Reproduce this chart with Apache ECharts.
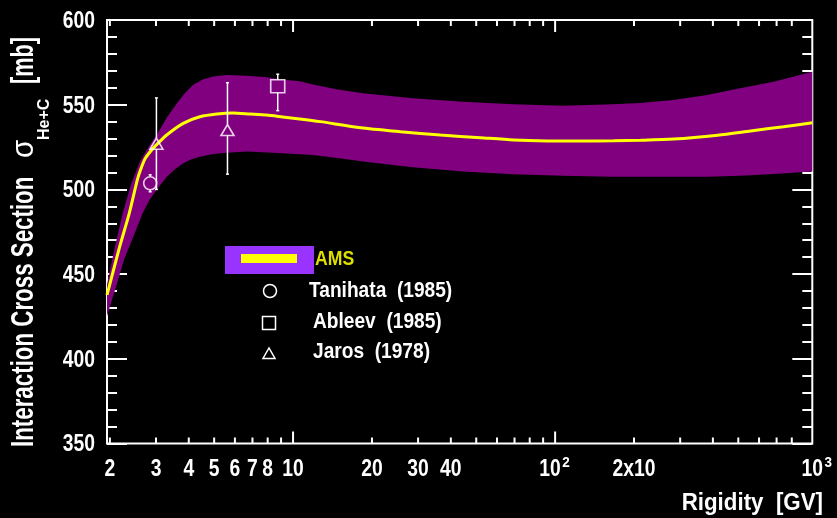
<!DOCTYPE html>
<html>
<head>
<meta charset="utf-8">
<script src="https://cdn.jsdelivr.net/npm/echarts/dist/echarts.min.js"></script>
<style>
  html, body { margin: 0; padding: 0; background: #000; }
  #chart { width: 837px; height: 518px; }
</style>
</head>
<body>
<div id="chart"></div>
<script>
// AMS fit: central value of the He+C interaction cross section vs rigidity
const amsRigidity = [1.95, 2.019, 2.18, 2.371, 2.545, 2.609, 2.723, 2.845, 2.971, 3.295, 3.809, 4.41, 5.12, 5.90, 6.85, 7.92, 9.12, 10.6, 12.7, 18.1, 25.7, 36.5, 51.9, 69.4, 93.5, 125, 167, 212, 283, 417, 557, 744, 958];
const amsSigma = [437.7, 446.6, 466.2, 485.9, 505.6, 510.9, 518.0, 522.1, 525.4, 532.1, 539.0, 542.9, 544.5, 545.1, 544.5, 543.9, 542.8, 541.6, 540, 536.4, 534.1, 532.1, 530.5, 529.2, 528.6, 528.5, 528.7, 529, 529.7, 532, 534.5, 537, 539.3];

// AMS uncertainty band: upper and lower edges
const bandUpperR = [1.95, 1.967, 2.09, 2.24, 2.41, 2.61, 2.80, 3.04, 3.30, 3.61, 3.87, 4.15, 4.52, 4.95, 5.59, 6.67, 7.94, 9.48, 10.6, 11.9, 14.8, 18.5, 28.6, 44.5, 69.0, 107, 166, 211, 282, 380, 508, 682, 958];
const bandUpperV = [443.8, 446.6, 466.1, 486.1, 503.2, 516.8, 524.8, 533.0, 542.5, 551.0, 556.9, 561.6, 564.9, 566.7, 567.5, 567.1, 566.2, 564.6, 563.8, 561.9, 559.0, 556.7, 553.8, 551.8, 550.3, 549.4, 550.3, 551.0, 552.8, 555.7, 559.7, 563.6, 569.5];
const bandLowerR = [1.95, 1.967, 2.15, 2.27, 2.43, 2.67, 2.84, 3.05, 3.30, 3.53, 3.80, 4.07, 4.41, 4.95, 5.59, 6.67, 8.37, 10.6, 11.9, 14.8, 18.5, 28.6, 44.5, 69.0, 107, 166, 211, 380, 508, 682, 958];
const bandLowerV = [425.1, 427.1, 446.6, 459.0, 470.2, 486.1, 494.1, 500.9, 507.4, 511.8, 515.3, 517.7, 519.3, 520.9, 521.7, 522.3, 521.7, 520.8, 520.3, 518.6, 516.4, 513.1, 510.5, 509.0, 508.0, 507.5, 507.5, 507.5, 508.1, 509.1, 510.5];

// Measurements
const tanihataR = [2.85];
const tanihataV = [503.6];
const tanihataErrLo = [5];
const tanihataErrHi = [5];

const ableevR = [8.74];
const ableevV = [560.9];
const ableevErrLo = [14.4];
const ableevErrHi = [7.1];

const jarosR = [3.01, 5.62];
const jarosV = [527, 535];
const jarosErrLo = [27, 26];
const jarosErrHi = [27, 28];

// Axis ticks and labels
const xTickValues = [2, 3, 4, 5, 6, 7, 8, 9, 10, 20, 30, 40, 50, 60, 70, 80, 90, 100, 200, 300, 400, 500, 600, 700, 800];
const xMajorTicks = [10, 100];
const xLabelValues = [2, 3, 4, 5, 6, 7, 8, 10, 20, 30, 40, 100, 200, 1000];
const xLabelTexts = ['2', '3', '4', '5', '6', '7', '8', '10', '20', '30', '40', '10', '2x10', '10'];
const xLabelSups = ['', '', '', '', '', '', '', '', '', '', '', '2', '', '3'];
const yLabelValues = [350, 400, 450, 500, 550, 600];

const X_MIN = 1.95, X_MAX = 958, Y_MIN = 350, Y_MAX = 600;
const FONT = '"Liberation Sans", Arial, Helvetica, sans-serif';
const WHITE = '#ffffff';

const chart = echarts.init(document.getElementById('chart'));

function zip(a, b) { return a.map((v, i) => [v, b[i]]); }

// rows for error bars: [R, value, errLow, errHigh, marker half height in px]
function errRows(r, v, lo, hi, half) { return r.map((x, i) => [x, v[i], lo[i], hi[i], half]); }
const errorRows = [].concat(
  errRows(tanihataR, tanihataV, tanihataErrLo, tanihataErrHi, 6.7),
  errRows(ableevR, ableevV, ableevErrLo, ableevErrHi, 6.5),
  errRows(jarosR, jarosV, jarosErrLo, jarosErrHi, 5.5)
);

const tickStyle = { stroke: WHITE, lineWidth: 2 };
const labelFont = 'bold 23px ' + FONT;
const supFont = 'bold 15px ' + FONT;

const yAxisCommon = {
  type: 'value', min: Y_MIN, max: Y_MAX, interval: 50,
  axisLine: { show: false },
  axisTick: { show: true, inside: true, length: 20, lineStyle: { color: WHITE, width: 2 } },
  minorTick: { show: true, splitNumber: 5, length: 10, lineStyle: { color: WHITE, width: 2 } },
  axisLabel: { show: false },
  splitLine: { show: false },
  minorSplitLine: { show: false }
};

const option = {
  backgroundColor: '#000000',
  animation: false,
  grid: {
    left: 107, right: 24.7, top: 20, bottom: 74.5,
    show: true, borderColor: WHITE, borderWidth: 2, backgroundColor: 'transparent'
  },
  xAxis: {
    type: 'log', logBase: 10, min: X_MIN, max: X_MAX,
    axisLine: { show: false }, axisTick: { show: false }, axisLabel: { show: false },
    splitLine: { show: false }, minorTick: { show: false }, minorSplitLine: { show: false }
  },
  yAxis: [
    Object.assign({ position: 'left' }, yAxisCommon),
    Object.assign({ position: 'right' }, yAxisCommon)
  ],
  series: [
    {
      // uncertainty band
      type: 'custom', z: 1, silent: true,
      data: [[X_MIN, 500]],
      renderItem(params, api) {
        const pts = [];
        bandUpperR.forEach((r, i) => pts.push(api.coord([r, bandUpperV[i]])));
        for (let i = bandLowerR.length - 1; i >= 0; i--) pts.push(api.coord([bandLowerR[i], bandLowerV[i]]));
        return { type: 'polygon', shape: { points: pts }, style: { fill: '#800080' } };
      }
    },
    {
      type: 'line', z: 2, silent: true,
      data: zip(amsRigidity, amsSigma),
      smooth: 0.25, symbol: 'none',
      lineStyle: { color: '#ffff00', width: 3 }
    },
    {
      // error bars, drawn from the marker edges outward
      type: 'custom', z: 3, silent: true,
      data: errorRows,
      encode: { x: 0, y: 1 },
      renderItem(params, api) {
        const r = api.value(0), v = api.value(1), lo = api.value(2), hi = api.value(3), h = api.value(4);
        const c = api.coord([r, v]);
        const top = api.coord([r, v + hi]);
        const bot = api.coord([r, v - lo]);
        const cap = 1.5;
        const children = [];
        if (top[1] < c[1] - h) {
          children.push({ type: 'line', shape: { x1: c[0], y1: top[1], x2: c[0], y2: c[1] - h }, style: { stroke: WHITE, lineWidth: 1.5 } });
          children.push({ type: 'line', shape: { x1: c[0] - cap, y1: top[1], x2: c[0] + cap, y2: top[1] }, style: { stroke: WHITE, lineWidth: 1.5 } });
        }
        if (bot[1] > c[1] + h) {
          children.push({ type: 'line', shape: { x1: c[0], y1: c[1] + h, x2: c[0], y2: bot[1] }, style: { stroke: WHITE, lineWidth: 1.5 } });
          children.push({ type: 'line', shape: { x1: c[0] - cap, y1: bot[1], x2: c[0] + cap, y2: bot[1] }, style: { stroke: WHITE, lineWidth: 1.5 } });
        }
        return { type: 'group', children };
      }
    },
    {
      name: 'Tanihata (1985)', type: 'scatter', z: 4, silent: true,
      data: zip(tanihataR, tanihataV), symbol: 'circle', symbolSize: 13,
      itemStyle: { color: 'rgba(0,0,0,0)', borderColor: WHITE, borderWidth: 1.6 }
    },
    {
      name: 'Ableev (1985)', type: 'scatter', z: 4, silent: true,
      data: zip(ableevR, ableevV), symbol: 'rect', symbolSize: [14, 13],
      itemStyle: { color: 'rgba(0,0,0,0)', borderColor: WHITE, borderWidth: 1.6 }
    },
    {
      name: 'Jaros (1978)', type: 'scatter', z: 4, silent: true,
      data: zip(jarosR, jarosV), symbol: 'triangle', symbolSize: [13, 11],
      itemStyle: { color: 'rgba(0,0,0,0)', borderColor: WHITE, borderWidth: 1.6 }
    },
    {
      // log-axis ticks on bottom and top edges
      type: 'custom', z: 5, silent: true,
      data: xTickValues.map(v => [v, Y_MIN]),
      renderItem(params, api) {
        const v = api.value(0);
        const len = xMajorTicks.indexOf(v) >= 0 ? 12 : 6;
        const b = api.coord([v, Y_MIN]);
        const t = api.coord([v, Y_MAX]);
        return {
          type: 'group', children: [
            { type: 'line', shape: { x1: b[0], y1: b[1], x2: b[0], y2: b[1] - len }, style: tickStyle },
            { type: 'line', shape: { x1: t[0], y1: t[1], x2: t[0], y2: t[1] + len }, style: tickStyle }
          ]
        };
      }
    },
    {
      // x tick labels
      type: 'custom', z: 5, silent: true,
      data: xLabelValues.map((v, i) => [v, Y_MIN, i]),
      renderItem(params, api) {
        const i = api.value(2);
        const p = api.coord([api.value(0), Y_MIN]);
        const sup = xLabelSups[i];
        const y = p[1] + 26.5;
        const children = [{
          type: 'text', x: sup ? p[0] - 5 : p[0], y: y, scaleX: 0.84,
          style: { text: xLabelTexts[i], font: labelFont, fill: WHITE, align: 'center', verticalAlign: 'middle' }
        }];
        if (sup) {
          children.push({
            type: 'text', x: p[0] + 11, y: y - 7, scaleX: 0.9,
            style: { text: sup, font: supFont, fill: WHITE, align: 'center', verticalAlign: 'middle' }
          });
        }
        return { type: 'group', children };
      }
    },
    {
      // y tick labels
      type: 'custom', z: 5, silent: true,
      data: yLabelValues.map(v => [X_MIN, v]),
      renderItem(params, api) {
        const p = api.coord([X_MIN, api.value(1)]);
        return {
          type: 'text', x: p[0] - 12, y: p[1] + 1.5, scaleX: 0.84,
          style: { text: String(api.value(1)), font: labelFont, fill: WHITE, align: 'right', verticalAlign: 'middle' }
        };
      }
    }
  ],
  graphic: [
    // y-axis title, reading upward
    { type: 'text', x: 24.5, y: 447, rotation: Math.PI / 2, scaleX: 0.72, silent: true,
      style: { text: 'Interaction Cross Section', font: 'bold 31px ' + FONT, fill: WHITE, align: 'left', verticalAlign: 'middle' } },
    { type: 'text', x: 24.5, y: 158, rotation: Math.PI / 2, scaleX: 0.95, silent: true,
      style: { text: 'σ', font: '31px ' + FONT, fill: WHITE, align: 'left', verticalAlign: 'middle' } },
    { type: 'text', x: 44.5, y: 140, rotation: Math.PI / 2, scaleX: 1, silent: true,
      style: { text: 'He+C', font: 'bold 16px ' + FONT, fill: WHITE, align: 'left', verticalAlign: 'middle' } },
    { type: 'text', x: 24.5, y: 84, rotation: Math.PI / 2, scaleX: 0.7, silent: true,
      style: { text: '[mb]', font: 'bold 31px ' + FONT, fill: WHITE, align: 'left', verticalAlign: 'middle' } },

    // x-axis title
    { type: 'text', x: 823, y: 503, scaleX: 0.93, silent: true,
      style: { text: 'Rigidity  [GV]', font: 'bold 24px ' + FONT, fill: WHITE, align: 'right', verticalAlign: 'middle' } },

    // legend
    { type: 'rect', shape: { x: 225, y: 246, width: 89, height: 28 }, style: { fill: '#9933ff' }, silent: true },
    { type: 'rect', shape: { x: 241, y: 254, width: 56, height: 9 }, style: { fill: '#ffff00' }, silent: true },
    { type: 'text', x: 315, y: 259.5, scaleX: 0.84, silent: true,
      style: { text: 'AMS', font: 'bold 21px ' + FONT, fill: '#dede00', align: 'left', verticalAlign: 'middle' } },
    { type: 'circle', shape: { cx: 270, cy: 291, r: 6.5 }, style: { fill: 'none', stroke: WHITE, lineWidth: 1.5 }, silent: true },
    { type: 'rect', shape: { x: 262.5, y: 316.5, width: 13, height: 13 }, style: { fill: 'none', stroke: WHITE, lineWidth: 1.5 }, silent: true },
    { type: 'polygon', shape: { points: [[263, 358.5], [275, 358.5], [269, 348]] }, style: { fill: 'none', stroke: WHITE, lineWidth: 1.5 }, silent: true },
    { type: 'text', x: 309, y: 291, scaleX: 0.87, silent: true,
      style: { text: 'Tanihata  (1985)', font: 'bold 22px ' + FONT, fill: WHITE, align: 'left', verticalAlign: 'middle' } },
    { type: 'text', x: 313, y: 321.5, scaleX: 0.87, silent: true,
      style: { text: 'Ableev  (1985)', font: 'bold 22px ' + FONT, fill: WHITE, align: 'left', verticalAlign: 'middle' } },
    { type: 'text', x: 313, y: 351.5, scaleX: 0.87, silent: true,
      style: { text: 'Jaros  (1978)', font: 'bold 22px ' + FONT, fill: WHITE, align: 'left', verticalAlign: 'middle' } }
  ]
};

chart.setOption(option);
</script>
</body>
</html>
